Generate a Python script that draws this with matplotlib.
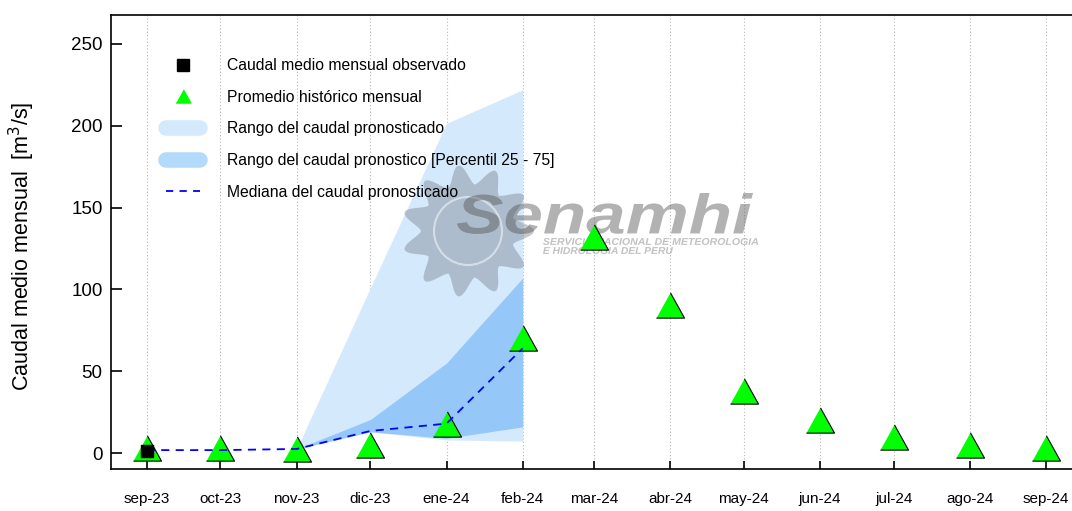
import numpy as np
import pandas as pd
import matplotlib
matplotlib.use("Agg")
import matplotlib.pyplot as plt
import matplotlib.dates as mdates
from matplotlib.lines import Line2D
from matplotlib.textpath import TextPath
from matplotlib.font_manager import FontProperties
from matplotlib.patches import PathPatch, Circle
from matplotlib.path import Path
from matplotlib.transforms import Affine2D

plt.rcParams["font.family"] = ["Liberation Sans", "DejaVu Sans"]

# months on the x axis
months = pd.to_datetime([
    "2023-09-01", "2023-10-01", "2023-11-01", "2023-12-01", "2024-01-01",
    "2024-02-01", "2024-03-01", "2024-04-01", "2024-05-01", "2024-06-01",
    "2024-07-01", "2024-08-01", "2024-09-01",
])
month_labels = ["sep-23", "oct-23", "nov-23", "dic-23", "ene-24", "feb-24",
                "mar-24", "abr-24", "may-24", "jun-24", "jul-24", "ago-24",
                "sep-24"]

# historic monthly mean (triangles)
hist_mean = [3.2, 3.0, 2.7, 4.9, 18.0, 70.5, 132.0, 90.7, 37.9, 20.4, 9.9, 4.9, 3.2]

# observed monthly flow (square)
obs_dates = pd.to_datetime(["2023-09-01"])
obs_vals = [1.5]

# median of the forecast (dashed)
med_dates = months[:6]
med_vals = [1.8, 1.8, 2.5, 13.5, 18.0, 64.0]

# forecast ranges (from nov-23 to feb-24)
fc_dates = months[2:6]
fc_min = [2.5, 13.0, 8.0, 7.3]
fc_max = [2.5, 101.0, 201.5, 222.0]
fc_p25 = [2.5, 13.0, 9.0, 16.0]
fc_p75 = [2.5, 20.5, 55.0, 107.0]

light_blue = "#d5e9fd"
mid_blue = "#95c8f9"
tri = [(-1, -0.9), (1, -0.9), (0, 0.9)]


def fit_text(fig, ax, s, box, color, alpha, weight="bold"):
    # text drawn as a path, stretched into a box given in inches
    fp = FontProperties(family="Liberation Sans", weight=weight, style="italic")
    tp = TextPath((0, 0), s, size=1, prop=fp)
    ext = tp.get_extents()
    x0, y0, x1, y1 = box
    tr = (Affine2D().translate(-ext.x0, -ext.y0)
          .scale((x1 - x0) / ext.width, (y1 - y0) / ext.height)
          .translate(x0, y0) + fig.dpi_scale_trans)
    ax.add_patch(PathPatch(tp, transform=tr, fc=color, ec="none",
                           alpha=alpha, clip_on=False, zorder=3))


def sun(fig, ax, cx, cy, color, alpha):
    th = np.linspace(0, 2 * np.pi, 600)
    wave = 0.5 + 0.5 * np.cos(11 * th + 0.35 * np.sin(11 * th))
    r_out = 0.47 + 0.19 * wave ** 0.7
    verts = np.column_stack([cx + r_out * np.cos(th), cy + r_out * np.sin(th)])
    ax.add_patch(PathPatch(Path(verts, closed=False), transform=fig.dpi_scale_trans,
                           fc=color, ec="none", alpha=alpha, clip_on=False,
                           zorder=3))
    ax.add_patch(Circle((cx, cy), 0.34, transform=fig.dpi_scale_trans,
                        fc="none", ec="white", lw=1.5, alpha=0.5,
                        clip_on=False, zorder=3))


fig = plt.figure(figsize=(10.72, 5.11), dpi=100)
ax = fig.add_axes([0.1033, 0.082, 0.8967, 0.8886])

ax.fill_between(fc_dates, fc_min, fc_max, color=light_blue, lw=0, zorder=1)
ax.fill_between(fc_dates, fc_p25, fc_p75, color=mid_blue, lw=0, zorder=2)

# watermark
sun(fig, ax, 4.68, 2.80, "#6b7580", 0.38)
fit_text(fig, ax, "Senamhi", (4.57, 2.77, 7.53, 3.18), "#555555", 0.45)
fit_text(fig, ax, "SERVICIO NACIONAL DE METEOROLOGIA", (5.43, 2.66, 7.58, 2.73),
         "#9a9a9a", 0.6)
fit_text(fig, ax, "E HIDROLOGIA DEL PERU", (5.43, 2.57, 6.73, 2.64),
         "#9a9a9a", 0.6)

ax.plot(med_dates, med_vals, color="#0000ff", ls=(0, (4.5, 3.5)), lw=1.3, zorder=5)
ax.plot(months, hist_mean, ls="none", marker=tri, ms=20.2, mfc="#00ff00",
        mec="black", mew=0.8, zorder=4)
ax.plot(obs_dates, obs_vals, ls="none", marker="s", ms=8.5, color="black",
        zorder=6)

ax.set_xlim(mdates.date2num(pd.Timestamp("2023-08-17 08:00")),
            mdates.date2num(pd.Timestamp("2024-09-11 14:00")))
ax.set_ylim(-9.8, 267.7)
ax.set_xticks(months)
ax.set_xticklabels(month_labels, fontsize=11)
ax.set_yticks([0, 50, 100, 150, 200, 250])
ax.tick_params(axis="y", direction="in", labelsize=13.5, length=8, width=1.2, pad=5.8)
ax.tick_params(axis="x", direction="in", length=6, width=1.2, pad=16.5)
ax.grid(axis="x", color="#b8b8b8", ls=(0, (1, 2)), lw=0.8)
ax.set_axisbelow(True)
ax.spines["right"].set_visible(False)
for s in ["left", "bottom", "top"]:
    ax.spines[s].set_linewidth(1.2)

ax.set_ylabel("Caudal medio mensual  [m$^3$/s]", fontsize=15.5)
ax.yaxis.set_label_coords(-0.077, 0.49)

handles = [
    Line2D([], [], ls="none", marker="s", ms=8, color="black"),
    Line2D([], [], ls="none", marker=tri, ms=10.5, mfc="#00ff00", mec="#00ff00"),
    Line2D([], [], color=light_blue, lw=11.2, solid_capstyle="round"),
    Line2D([], [], color="#b3d9fb", lw=11.2, solid_capstyle="round"),
    Line2D([], [], color="#0000ff", ls=(0, (4, 3.5)), lw=1.3),
]
labels = [
    "Caudal medio mensual observado",
    "Promedio histórico mensual",
    "Rango del caudal pronosticado",
    "Rango del caudal pronostico [Percentil 25 - 75]",
    "Mediana del caudal pronosticado",
]
ax.legend(handles, labels, loc="upper left", bbox_to_anchor=(0.043, 0.936),
          frameon=False, fontsize=11.3, labelspacing=1.06, handlelength=2.13,
          handletextpad=1.73)

fig.savefig("out.png", dpi=100)
